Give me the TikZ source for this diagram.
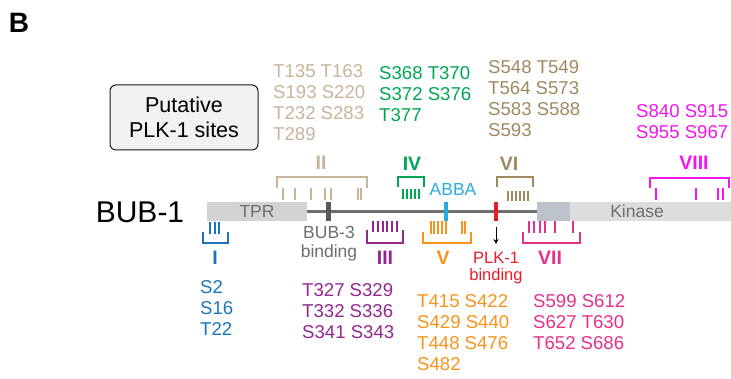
\documentclass[tikz,border=0pt]{standalone}
\usepackage{fontspec}
\setmainfont{Liberation Sans}
\usetikzlibrary{arrows.meta}

% domain colours
\definecolor{cII}{HTML}{C8B49B}
\definecolor{cIV}{HTML}{00A651}
\definecolor{cVI}{HTML}{9E8A5E}
\definecolor{cVIII}{HTML}{F516EE}
\definecolor{cI}{HTML}{1B75BC}
\definecolor{cIII}{HTML}{92278F}
\definecolor{cV}{HTML}{F7941D}
\definecolor{cVII}{HTML}{E6308A}
\definecolor{abba}{HTML}{29ABE2}
\definecolor{plk}{HTML}{ED1C24}
\definecolor{lineg}{HTML}{6D6E71}
\definecolor{tprg}{HTML}{D1D3D4}
\definecolor{bub3g}{HTML}{58595B}
\definecolor{kindark}{HTML}{BCC3CA}
\definecolor{kinlight}{HTML}{DCDDDD}
\definecolor{boxfill}{HTML}{F1F2F2}

\newcommand\sitefont{\fontsize{18.6}{21}\selectfont}
\newcommand\romanfont{\fontsize{19.5}{21}\selectfont\bfseries}
\newcommand\labelfont{\fontsize{17.5}{18.5}\selectfont}

\tikzset{
  brk/.style={line width=2.7pt, line cap=butt, line join=miter},
  tk/.style={line width=2.2pt, line cap=butt},
  sites/.style={font=\sitefont, align=left, inner sep=0pt, anchor=north west},
  roman/.style={font=\romanfont, inner sep=0pt},
  lbl/.style={font=\labelfont, inner sep=0pt, text=lineg}
}

\begin{document}
\begin{tikzpicture}[x=1pt,y=-1pt]
\useasboundingbox (0,0) rectangle (731,379);

% panel letter
\node[font=\fontsize{28}{30}\selectfont\bfseries, inner sep=0pt] (panel) at (19,23) {B};

% legend box
\node[draw=black!90, line width=1pt, fill=boxfill, rounded corners=6pt,
      minimum width=148pt, minimum height=65pt, align=center,
      font=\fontsize{21.5}{25}\selectfont, inner sep=0pt] (legend) at (184,117.5)
      {Putative\\PLK-1 sites};

% protein name
\node[font=\fontsize{30}{32}\selectfont, inner sep=0pt] (bub1) at (140,212) {BUB-1};

% backbone and regions
\draw[lineg, line width=2.3pt] (300,211.5) -- (540,211.5);
\fill[tprg] (207,202) rectangle (307,221);
\node[lbl] (tpr) at (257,211.5) {TPR};
\fill[bub3g] (326,202) rectangle (331,221);
\fill[abba] (443.5,202) rectangle (448,221);
\fill[plk] (493.5,202) rectangle (498,221);
\fill[kindark] (537,202) rectangle (570,221);
\fill[kinlight] (570,202) rectangle (731,221);
\node[lbl] (kinase) at (637,211.5) {Kinase};

% motif labels
\node[lbl, align=center, font=\fontsize{17.5}{18.5}\selectfont, anchor=north] (bub3) at (329,226.5) {BUB-3\\binding};
\node[lbl, text=abba] (abbatxt) at (453,189.5) {ABBA};
\node[font=\fontsize{16.5}{16.5}\selectfont, text=plk, align=center, inner sep=0pt, anchor=north] (plktxt) at (496,252) {PLK-1\\binding};
\coordinate (arrS) at (496,227);
\coordinate (arrE) at (496,244);
\draw[line width=0.9pt, -{Stealth[length=5pt,width=5pt]}] (arrS) -- (arrE);

% ---- clusters above the backbone ----
% II
\draw[brk, cII] (277,188) -- (277,177) -- (367,177) -- (367,188);
\foreach \x in {283,295,311,325,331,358,361} \draw[tk, cII] (\x,188) -- (\x,200);
\node[roman, text=cII] (rII) at (321,162.5) {II};
\node[sites, text=cII] (sII) at (273,64.5) {T135 T163\\S193 S220\\T232 S283\\T289};

% IV
\draw[brk, cIV] (398,187) -- (398,177) -- (424,177) -- (424,187);
\foreach \x in {403,407,411,415,419} \draw[tk, cIV] (\x,189) -- (\x,199);
\node[roman, text=cIV] (rIV) at (412,164) {IV};
\node[sites, text=cIV] (sIV) at (379,66) {S368 T370\\S372 S376\\T377};

% VI
\draw[brk, cVI] (497,187) -- (497,177) -- (533,177) -- (533,187);
\foreach \x in {508,512,516,520,524,528} \draw[tk, cVI] (\x,191) -- (\x,201);
\node[roman, text=cVI] (rVI) at (509,164) {VI};
\node[sites, text=cVI] (sVI) at (488,60) {S548 T549\\T564 S573\\S583 S588\\S593};

% VIII
\draw[brk, cVIII] (650,188) -- (650,178) -- (729,178) -- (729,188);
\foreach \x in {656,696,718,723} \draw[tk, cVIII] (\x,188) -- (\x,200);
\node[roman, text=cVIII] (rVIII) at (694,163) {VIII};
\node[sites, text=cVIII] (sVIII) at (636,104) {S840 S915\\S955 S967};

% ---- clusters below the backbone ----
% I
\foreach \x in {210,215,219} \draw[tk, cI] (\x,222) -- (\x,234);
\draw[brk, cI] (203,232) -- (203,243) -- (228,243) -- (228,232);
\node[roman, text=cI] (rI) at (215,257.5) {I};
\node[sites, text=cI] (sI) at (200,280.5) {S2\\S16\\T22};

% III
\foreach \x in {373,378,383,387,392,397} \draw[tk, cIII] (\x,221) -- (\x,232);
\draw[brk, cIII] (367,230) -- (367,243) -- (403,243) -- (403,230);
\node[roman, text=cIII] (rIII) at (385,258) {III};
\node[sites, text=cIII] (sIII) at (302,283) {T327 S329\\T332 S336\\S341 S343};

% V
\foreach \x in {431,434,438,442,446,462,465} \draw[tk, cV] (\x,221) -- (\x,234);
\draw[brk, cV] (423,232) -- (423,243) -- (471,243) -- (471,232);
\node[roman, text=cV] (rV) at (443,258) {V};
\node[sites, text=cV] (sV) at (417,294) {T415 S422\\S429 S440\\T448 S476\\S482};

% VII
\foreach \x in {529,534,540,545,555,573} \draw[tk, cVII] (\x,221) -- (\x,233);
\draw[brk, cVII] (523,232) -- (523,243) -- (580,243) -- (580,232);
\node[roman, text=cVII] (rVII) at (550,258) {VII};
\node[sites, text=cVII] (sVII) at (533,294) {S599 S612\\S627 T630\\T652 S686};
\end{tikzpicture}
\end{document}
